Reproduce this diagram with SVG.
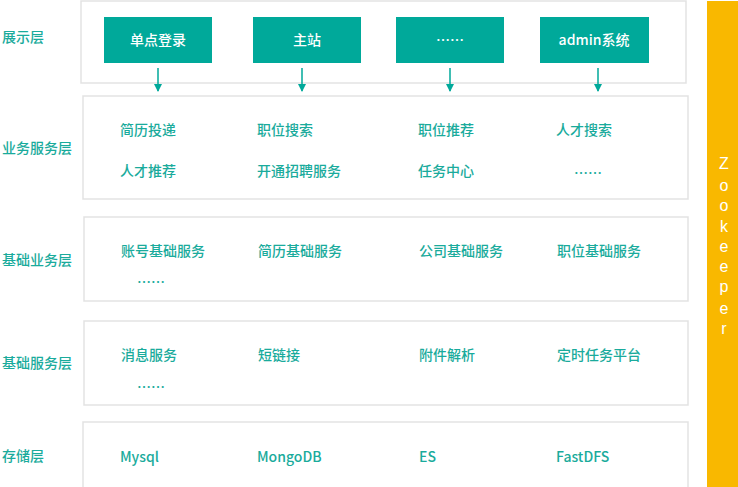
<svg xmlns="http://www.w3.org/2000/svg" width="738" height="487" viewBox="0 0 738 487">
<style>
.layer{fill:#ffffff;stroke:#e3e3e3;stroke-width:1.5}
.btn{fill:#00a99a}
.btxt{fill:#ffffff;font-family:"Noto Sans CJK SC","Liberation Sans",sans-serif;font-size:14px;font-weight:500;text-anchor:middle}
.t{fill:#1aab9c;font-family:"Noto Sans CJK SC","Liberation Sans",sans-serif;font-size:14px;font-weight:500}
.lbl{fill:#1aab9c;font-family:"Noto Sans CJK SC","Liberation Sans",sans-serif;font-size:14px;font-weight:500}
.zk{fill:#ffffff;font-family:"Liberation Sans",sans-serif;font-size:16px;text-anchor:middle}
.arr{stroke:#00a99a;stroke-width:1.5;fill:none}
</style>
<defs>
<marker id="ah" markerWidth="8" markerHeight="8" refX="7" refY="4" orient="auto" markerUnits="userSpaceOnUse">
<path d="M0,0 L8,4 L0,8 z" fill="#00a99a"/>
</marker>
</defs>
<rect width="738" height="487" fill="#ffffff"/>

<g id="zookeeper">
<rect x="707" y="1" width="31" height="486" fill="#f9b800"/>
<text class="zk" x="724" y="169">Z</text>
<text class="zk" x="724" y="191">o</text>
<text class="zk" x="724" y="211">o</text>
<text class="zk" x="724" y="232">k</text>
<text class="zk" x="724" y="252">e</text>
<text class="zk" x="724" y="272">e</text>
<text class="zk" x="724" y="292">p</text>
<text class="zk" x="724" y="314">e</text>
<text class="zk" x="724" y="334">r</text>
</g>

<g id="display-layer">
<rect class="layer" x="81" y="1" width="605" height="82"/>
<text class="lbl" x="2" y="42">展示层</text>
</g>
<g id="sso"><rect class="btn" x="104" y="17" width="108" height="46"/><text class="btxt" x="158" y="45">单点登录</text></g>
<g id="main-site"><rect class="btn" x="253" y="17" width="108" height="46"/><text class="btxt" x="307" y="45">主站</text></g>
<g id="more-display"><rect class="btn" x="396" y="17" width="108" height="46"/><text class="btxt" x="450" y="45">……</text></g>
<g id="admin"><rect class="btn" x="540" y="17" width="109" height="46"/><text class="btxt" x="594" y="45">admin系统</text></g>

<g id="connectors">
<line class="arr" x1="158" y1="68" x2="158" y2="91" marker-end="url(#ah)"/>
<line class="arr" x1="302" y1="68" x2="302" y2="91" marker-end="url(#ah)"/>
<line class="arr" x1="450" y1="68" x2="450" y2="91" marker-end="url(#ah)"/>
<line class="arr" x1="598" y1="68" x2="598" y2="91" marker-end="url(#ah)"/>
</g>

<g id="business-layer">
<rect class="layer" x="83" y="96" width="605" height="103"/>
<text class="lbl" x="2" y="153">业务服务层</text>
<text class="t" x="120" y="135">简历投递</text>
<text class="t" x="257" y="135">职位搜索</text>
<text class="t" x="418" y="135">职位推荐</text>
<text class="t" x="556" y="135">人才搜索</text>
<text class="t" x="120" y="176">人才推荐</text>
<text class="t" x="257" y="176">开通招聘服务</text>
<text class="t" x="418" y="176">任务中心</text>
<text class="t" x="574" y="178">……</text>
</g>

<g id="basic-business-layer">
<rect class="layer" x="84" y="217" width="604" height="84"/>
<text class="lbl" x="2" y="265">基础业务层</text>
<text class="t" x="121" y="256">账号基础服务</text>
<text class="t" x="258" y="256">简历基础服务</text>
<text class="t" x="419" y="256">公司基础服务</text>
<text class="t" x="557" y="256">职位基础服务</text>
<text class="t" x="137" y="287">……</text>
</g>

<g id="basic-service-layer">
<rect class="layer" x="84" y="321" width="604" height="84"/>
<text class="lbl" x="2" y="368">基础服务层</text>
<text class="t" x="121" y="360">消息服务</text>
<text class="t" x="258" y="360">短链接</text>
<text class="t" x="419" y="360">附件解析</text>
<text class="t" x="557" y="360">定时任务平台</text>
<text class="t" x="137" y="392">……</text>
</g>

<g id="storage-layer">
<rect class="layer" x="83" y="422" width="605" height="70"/>
<text class="lbl" x="2" y="461">存储层</text>
<text class="t" x="120" y="462">Mysql</text>
<text class="t" x="257" y="462">MongoDB</text>
<text class="t" x="419" y="462">ES</text>
<text class="t" x="556" y="462">FastDFS</text>
</g>
</svg>
